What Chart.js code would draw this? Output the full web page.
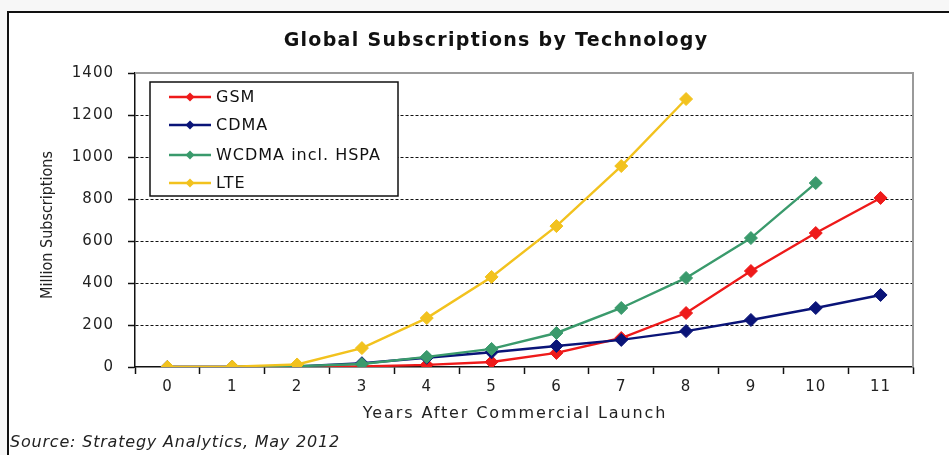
<!DOCTYPE html>
<html>
<head>
<meta charset="utf-8">
<script src="https://cdn.jsdelivr.net/npm/chart.js@4/dist/chart.umd.min.js"></script>
<style>
  html, body { margin: 0; padding: 0; background: #f7f7f7; overflow: hidden; }
  #wrap { position: absolute; left: 0; top: 0; width: 949px; height: 455px; }
  #frame { position: absolute; left: 7px; top: 11px; width: 960px; height: 460px;
           border-top: 2px solid #111; border-left: 2px solid #111; background: #fff; }
  canvas { position: absolute; left: 0; top: 0; }
</style>
</head>
<body>
<div id="wrap">
  <div id="frame"></div>
  <canvas id="chart" width="949" height="455"></canvas>
</div>
<script>
// values (million subscriptions)
const years = ['0', '1', '2', '3', '4', '5', '6', '7', '8', '9', '10', '11'];
const gsm = [0, 0, 1, 3, 10, 24, 67, 138, 257, 457, 638, 805];
const cdma = [0, 0, 3, 18, 44, 70, 100, 129, 171, 224, 281, 343];
const wcdma = [0, 0, 4, 14, 48, 86, 162, 281, 424, 614, 876];
const lte = [0, 2, 12, 90, 233, 429, 671, 957, 1276];
const yTicks = [0, 200, 400, 600, 800, 1000, 1200, 1400];

const seriesNames = ['GSM', 'CDMA', 'WCDMA incl. HSPA', 'LTE'];
const seriesColors = ['#ee1a1a', '#0a1478', '#3a9a6c', '#f2c21e'];

const FONT = '"DejaVu Sans", Verdana, sans-serif';

function makeSet(i, data, order) {
  return {
    label: seriesNames[i],
    data,
    borderColor: seriesColors[i],
    backgroundColor: seriesColors[i],
    borderWidth: 2.4,
    pointStyle: 'rectRot',
    pointRadius: 6.5,
    pointBorderWidth: 1,
    pointBorderColor: seriesColors[i],
    tension: 0,
    order
  };
}

// the reference text is set rather wide, so space the letters a little
function spacing(chart) {
  chart.ctx.letterSpacing = '1px';
}

function text(ctx, str, x, y, font, gap, align) {
  ctx.font = font;
  ctx.letterSpacing = gap + 'px';
  ctx.textAlign = align || 'center';
  ctx.textBaseline = 'middle';
  ctx.fillText(str, x, y);
}

const decorations = {
  id: 'decorations',
  beforeLayout: spacing,
  beforeDraw: spacing,
  beforeDatasetsDraw(chart) {
    const { ctx, chartArea: a } = chart;
    ctx.save();
    ctx.strokeStyle = '#9a9a9a';
    ctx.lineWidth = 2;
    ctx.beginPath();
    ctx.moveTo(a.left, a.top);
    ctx.lineTo(a.right, a.top);
    ctx.lineTo(a.right, a.bottom);
    ctx.stroke();
    ctx.restore();
  },
  afterDraw(chart) {
    const { ctx, chartArea: a } = chart;
    ctx.save();
    ctx.fillStyle = '#111';
    text(ctx, 'Global Subscriptions by Technology', 496, 41, 'bold 19px ' + FONT, 1.3);
    ctx.fillStyle = '#222';
    text(ctx, 'Years After Commercial Launch', 515, 414, '16px ' + FONT, 1.9);
    text(ctx, 'Source: Strategy Analytics, May 2012', 10, 443, 'italic 16px ' + FONT, 0.8, 'left');

    ctx.save();
    ctx.translate(48, 225);
    ctx.rotate(-Math.PI / 2);
    text(ctx, 'Million Subscriptions', 0, 0, '16px "Liberation Sans Narrow", "DejaVu Sans Condensed", sans-serif', 0);
    ctx.restore();

    // legend box
    const bx = a.left + 15, by = a.top + 9, bw = 248, bh = 114;
    ctx.fillStyle = '#fff';
    ctx.fillRect(bx, by, bw, bh);
    ctx.strokeStyle = '#111';
    ctx.lineWidth = 1.5;
    ctx.strokeRect(bx, by, bw, bh);
    const rows = [by + 15, by + 43, by + 73, by + 101];
    chart.data.datasets.forEach((ds, i) => {
      const y = rows[i];
      ctx.strokeStyle = ds.borderColor;
      ctx.lineWidth = 2.4;
      ctx.beginPath();
      ctx.moveTo(bx + 19, y);
      ctx.lineTo(bx + 61, y);
      ctx.stroke();
      ctx.fillStyle = ds.borderColor;
      ctx.beginPath();
      ctx.moveTo(bx + 40, y - 4.5);
      ctx.lineTo(bx + 44.5, y);
      ctx.lineTo(bx + 40, y + 4.5);
      ctx.lineTo(bx + 35.5, y);
      ctx.closePath();
      ctx.fill();
      ctx.fillStyle = '#111';
      text(ctx, ds.label, bx + 66, y + 1, '16px ' + FONT, 1, 'left');
    });
    ctx.restore();
  }
};

new Chart(document.getElementById('chart'), {
  type: 'line',
  data: {
    labels: years,
    datasets: [
      makeSet(0, gsm, 4),
      makeSet(1, cdma, 3),
      makeSet(2, wcdma, 2),
      makeSet(3, lte, 1)
    ]
  },
  options: {
    responsive: false,
    animation: false,
    layout: { padding: { left: 0, right: 36, top: 73, bottom: 0 } },
    plugins: {
      legend: { display: false },
      tooltip: { enabled: false },
      title: { display: false }
    },
    scales: {
      x: {
        offset: true,
        grid: {
          offset: true,
          drawOnChartArea: false,
          drawTicks: true,
          tickLength: 7,
          tickColor: '#111',
          tickWidth: 1.5
        },
        border: { display: true, color: '#111', width: 1.5 },
        ticks: {
          color: '#222',
          font: { family: FONT, size: 15 },
          padding: 4,
          maxRotation: 0
        },
        afterFit(scale) { scale.height = 88; }
      },
      y: {
        min: 0,
        max: 1400,
        afterBuildTicks(scale) { scale.ticks = yTicks.map(v => ({ value: v })); },
        grid: {
          color: ctx => (ctx.tick && (ctx.tick.value === 0 || ctx.tick.value === 1400)) ? 'rgba(0,0,0,0)' : '#111',
          lineWidth: 1,
          drawTicks: true,
          tickLength: 7,
          tickColor: '#111',
          tickWidth: 1.5
        },
        border: { display: true, color: '#111', width: 1.5, dash: [3, 2] },
        ticks: {
          color: '#222',
          font: { family: FONT, size: 15 },
          padding: 14,
          callback: v => String(v)
        },
        afterFit(scale) { scale.width = 135; }
      }
    }
  },
  plugins: [decorations]
});
</script>
</body>
</html>
